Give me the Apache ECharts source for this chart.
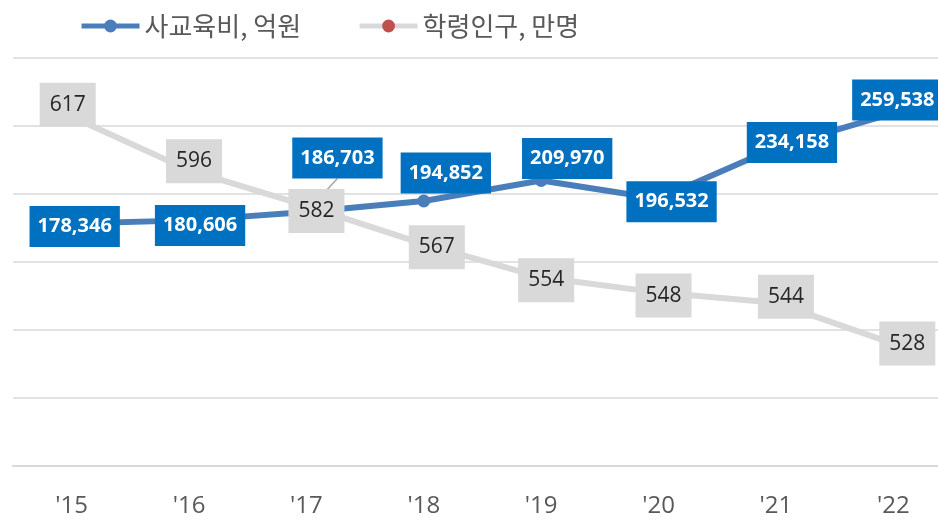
<!DOCTYPE html>
<html>
<head>
<meta charset="utf-8">
<script src="https://cdn.jsdelivr.net/npm/echarts@6/dist/echarts.min.js"></script>
<style>html,body{margin:0;padding:0;background:#fff}#c{width:938px;height:520px}</style>
</head>
<body>
<div id="c"></div>
<script>
const categories = ["'15", "'16", "'17", "'18", "'19", "'20", "'21", "'22"];
const seriesNames = ['사교육비, 억원', '학령인구, 만명'];
const privateEduCost = [178346, 180606, 186703, 194852, 209970, 196532, 234158, 259538];
const schoolAgePop = [617, 596, 582, 567, 554, 548, 544, 528];

// label placement tweaks (layout only)
const blueLabelShift = [[3,3],[11,5],[31,-54],[22,-28],[26,-22],[13,3],[16,-5],[4,-13]];
const grayLabelShift = [[-4,-12],[5,-9],[10,5],[13,3],[5,3],[5,3],[10,-6],[14,0]];

const numFont = '"Open Sans", "Noto Sans", sans-serif';
const chart = echarts.init(document.getElementById('c'), null, {renderer: 'canvas'});
chart.setOption({
  animation: false,
  legend: {
    left: 74, top: 8,
    itemWidth: 58, itemHeight: 16, itemGap: 56,
    lineStyle: {width: 5},
    textStyle: {fontFamily: '"Noto Sans CJK KR", sans-serif', fontSize: 26, color: '#595959'},
    data: seriesNames
  },
  grid: {left: 13, top: 58, width: 939, height: 408, outerBoundsMode: 'none', containLabel: false},
  xAxis: {
    type: 'category', data: categories, boundaryGap: true,
    axisLine: {show: true, lineStyle: {color: '#d9d9d9', width: 2}},
    axisTick: {show: false},
    axisLabel: {fontFamily: numFont, fontSize: 24, color: '#595959', margin: 28}
  },
  yAxis: [
    {type: 'value', min: 0, max: 300000, interval: 50000,
     axisLabel: {show: false}, axisLine: {show: false}, axisTick: {show: false},
     splitLine: {lineStyle: {color: '#d9d9d9', width: 1.5}}},
    {type: 'value', min: 480, max: 640, show: false, splitLine: {show: false}}
  ],
  series: [
    {
      name: seriesNames[0], type: 'line', yAxisIndex: 0, z: 3,
      data: privateEduCost.map((v, i) => i === 2 ? {value: v, labelLine: {show: true}} : v),
      symbol: 'circle', symbolSize: 13,
      itemStyle: {color: '#4a7ebb'},
      lineStyle: {color: '#4a7ebb', width: 6},
      labelLine: {show: false, lineStyle: {color: '#a6a6a6', width: 1.5}},
      label: {
        show: true, position: 'inside',
        formatter: p => p.value.toLocaleString('en-US'),
        fontFamily: numFont, fontWeight: 'bold', fontSize: 20, color: '#fff',
        backgroundColor: '#0070c0', padding: [8, 8, 8, 8], lineHeight: 25
      },
      labelLayout: p => ({dx: blueLabelShift[p.dataIndex][0], dy: blueLabelShift[p.dataIndex][1]})
    },
    {
      name: seriesNames[1], type: 'line', yAxisIndex: 1, z: 4,
      data: schoolAgePop,
      symbol: 'circle', symbolSize: 0, showSymbol: true,
      itemStyle: {color: '#c0504d'},
      lineStyle: {color: '#d9d9d9', width: 6},
      label: {
        show: true, position: 'inside',
        fontFamily: numFont, fontSize: 21, color: '#262626',
        backgroundColor: '#d9d9d9', padding: [9, 10, 9, 10], lineHeight: 26
      },
      labelLayout: p => ({dx: grayLabelShift[p.dataIndex][0], dy: grayLabelShift[p.dataIndex][1]})
    }
  ]
});
</script>
</body>
</html>
